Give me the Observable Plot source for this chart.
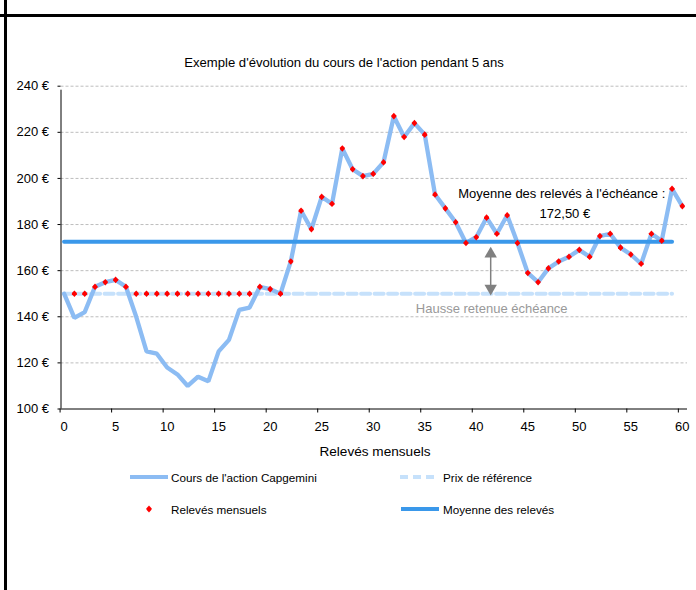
<!DOCTYPE html>
<html><head><meta charset="utf-8">
<script src="https://cdn.jsdelivr.net/npm/d3@7"></script>
<script src="https://cdn.jsdelivr.net/npm/@observablehq/plot@0.6"></script>
<style>
body{margin:0;background:#fff;font-family:"Liberation Sans",Arial,sans-serif;}
#wrap{position:relative;width:696px;height:590px;overflow:hidden;background:#fff;}
.abs{position:absolute;white-space:nowrap;}
.lg{position:absolute;white-space:nowrap;font-size:11.7px;line-height:14px;color:#000;}
</style></head><body>
<div id="wrap"></div>
<script>
// ---- data ----
const months = d3.range(0, 61);
const prices = [150,139.5,142,153,155,156,153,140,125,124,118,115,110,114,112,125,130,143,144,153,152,150,164,186,178,192,189,213,204,201,202,207,227,218,224,219,193,187,181,172,174.5,183,176,184,172,159,155,161,164,166,169,166,175,176,170,167,163,176,173,195.5,188];
const readingMonths = d3.range(1, 61);
const readings = [150,150,153,155,156,153,150,150,150,150,150,150,150,150,150,150,150,150,153,152,150,164,186,178,192,189,213,204,201,202,207,227,218,224,219,193,187,181,172,174.5,183,176,184,172,159,155,161,164,166,169,166,175,176,170,167,163,176,173,195.5,188];
const referencePrice = 150;
const averageReading = 172.5;
const lineStart = 0, lineEnd = 59;
const yTicks = [100,120,140,160,180,200,220,240];
const yGrid = [120,140,160,180,200,220,240];
const xTicks = [0,5,10,15,20,25,30,35,40,45,50,55,60];
const title = "Exemple d'évolution du cours de l'action pendant 5 ans";
const xLabel = "Relevés mensuels";
const avgLabel1 = "Moyenne des relevés à l'échéance :";
const avgLabel2 = "172,50 €";
const hausseLabel = "Hausse retenue échéance";
const legendItems = ["Cours de l'action Capgemini","Prix de référence","Relevés mensuels","Moyenne des relevés"];
const arrowX = 41.4;

const cPrice = "#8cbcf3", cRef = "#c6e1fb", cAvg = "#3a98ea", cDot = "#ff0000";

const priceData = months.map((m,i)=>({x:m, y:prices[i]}));
const readData = readingMonths.map((m,i)=>({x:m, y:readings[i]}));
const refData = [{x:lineStart,y:referencePrice},{x:lineEnd,y:referencePrice}];
const avgData = [{x:lineStart,y:averageReading},{x:lineEnd,y:averageReading}];

const smallDiamond = {
  draw(ctx) {
    ctx.moveTo(0, -3.3); ctx.lineTo(2.5, -0.6); ctx.lineTo(2.5, 0.6);
    ctx.lineTo(0, 3.3); ctx.lineTo(-2.5, 0.6); ctx.lineTo(-2.5, -0.6); ctx.closePath();
  }
};

const xMin = -0.3, xMax = 60.5;
const chart = Plot.plot({
  width: 696, height: 590,
  marginTop: 85.7, marginBottom: 181.5, marginLeft: 60.5, marginRight: 9,
  x: {domain: [xMin, xMax]},
  y: {domain: [100, 240]},
  style: {fontFamily: '"Liberation Sans", Arial, sans-serif', fontSize: "13px", color: "#000", background: "transparent"},
  marks: [
    Plot.ruleY(yGrid, {stroke: "#bdbdbd", strokeDasharray: "3,2", strokeWidth: 1}),
    Plot.axisY({ticks: yTicks, tickSize: 3, tickPadding: 9, tickFormat: d => d + " €", label: null, stroke: "#000"}),
    Plot.axisX({ticks: xTicks, tickSize: 0, tickPadding: 13, tickFormat: d => String(d), label: null}),
    Plot.axisX({ticks: xTicks, tickSize: 4, text: null, dx: -4, label: null, stroke: "#000"}),
    Plot.ruleX([xMin], {y1: 100, y2: 240, stroke: "#000", insetBottom: -4}),
    Plot.ruleY([100], {stroke: "#000"}),
    Plot.line(refData, {x: "x", y: "y", stroke: cRef, strokeWidth: 4, strokeDasharray: "9,4.5"}),
    Plot.line(priceData, {x: "x", y: "y", stroke: cPrice, strokeWidth: 4.3, strokeLinejoin: "miter"}),
    Plot.line(avgData, {x: "x", y: "y", stroke: cAvg, strokeWidth: 4}),
    Plot.dot(readData, {x: "x", y: "y", symbol: smallDiamond, fill: cDot, stroke: null}),
    Plot.ruleX([arrowX], {y1: 153, y2: 167, stroke: "#808080", strokeWidth: 1.5}),
    Plot.dot([{x: arrowX, y: 167.3}], {x: "x", y: "y", symbol: "triangle", r: 4.6, fill: "#808080", stroke: null}),
    Plot.dot([{x: arrowX, y: 152.3}], {x: "x", y: "y", symbol: "triangle", r: 4.6, fill: "#808080", stroke: null, rotate: 180}),
    Plot.text([avgLabel1], {x: 48.3, y: 193.5, text: d => d, fontSize: 13, fill: "#000"}),
    Plot.text([avgLabel2], {x: 48.6, y: 184.8, text: d => d, fontSize: 13, fill: "#000"}),
    Plot.text([hausseLabel], {x: 41.5, y: 143.5, text: d => d, fontSize: 13, fill: "#999999"})
  ]
});
chart.style.position = "absolute";
chart.style.left = "0px";
chart.style.top = "0px";

const wrap = document.getElementById("wrap");
wrap.appendChild(chart);

function add(html, css, cls="abs"){
  const d = document.createElement("div");
  d.className = cls;
  d.innerHTML = html;
  Object.assign(d.style, css);
  wrap.appendChild(d);
  return d;
}
// frame lines
add("", {left:"4px", top:"0px", width:"3px", height:"590px", background:"#000"});
add("", {left:"0px", top:"13.5px", width:"696px", height:"3px", background:"#000"});
// title
add(title, {left:"0px", width:"688px", top:"54.5px", textAlign:"center", fontSize:"13.1px", lineHeight:"15px"});
// x label
add(xLabel, {left:"0px", width:"750px", top:"444px", textAlign:"center", fontSize:"13.6px", lineHeight:"16px"});
// legend
const sw = (inner,w)=>`<svg width="${w}" height="8" style="display:block">${inner}</svg>`;
add(sw(`<line x1="0" x2="38" y1="4" y2="4" stroke="${cPrice}" stroke-width="4"/>`,38), {left:"130px", top:"473px"});
add(legendItems[0], {left:"171px", top:"471px"}, "lg");
add(sw(`<line x1="0" x2="36" y1="4" y2="4" stroke="${cRef}" stroke-width="4" stroke-dasharray="8,5"/>`,36), {left:"400px", top:"473px"});
add(legendItems[1], {left:"443px", top:"471px"}, "lg");
add(`<svg width="8" height="10" style="display:block"><path d="M4,1.5L6.5,4.3L6.5,5.7L4,8.5L1.5,5.7L1.5,4.3Z" fill="${cDot}"/></svg>`, {left:"145px", top:"504px"});
add(legendItems[2], {left:"171px", top:"503px"}, "lg");
add(sw(`<line x1="0" x2="38" y1="4" y2="4" stroke="${cAvg}" stroke-width="4"/>`,38), {left:"401px", top:"505px"});
add(legendItems[3], {left:"443px", top:"503px"}, "lg");
</script>
</body></html>
